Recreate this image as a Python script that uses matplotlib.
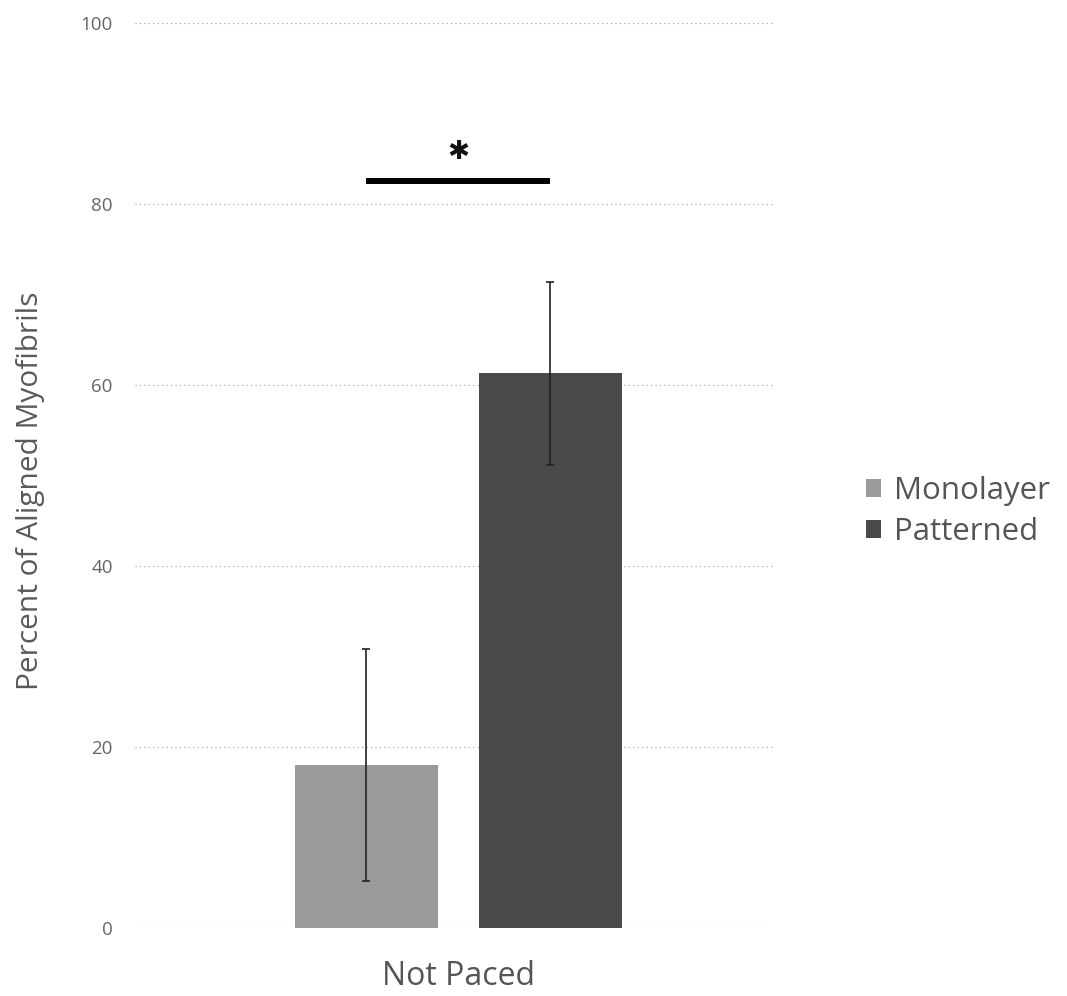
import matplotlib.pyplot as plt
import numpy as np

plt.rcParams['font.family'] = ['Open Sans', 'DejaVu Sans']

category = "Not Paced"
groups = ["Monolayer", "Patterned"]
values = [18.0, 61.3]
errors = [12.8, 10.1]
colors = ["#9a9a9a", "#4a4a4a"]
yticks = [0, 20, 40, 60, 80, 100]
sig_y = 82.5

fig = plt.figure(figsize=(10.67, 9.96), dpi=100)
ax = fig.add_axes([135/1067, 1-928/996, 640/1067, 905/996])

w = 0.2234
offs = [-0.1388, 0.1488]
for i in range(2):
    ax.bar(offs[i], values[i], w, color=colors[i], label=groups[i], zorder=2)
    ax.errorbar(offs[i], values[i], yerr=errors[i], color="#222222",
                elinewidth=1.2, capsize=3, capthick=1.2, zorder=3)

# significance bar
ax.plot([offs[0], offs[1]], [sig_y, sig_y], color="black", lw=4.3, solid_capstyle='butt')
ax.text(np.mean(offs), sig_y + 3.3, "\u2731", ha="center", va="center",
        fontsize=19, family="DejaVu Sans", color="#111111")

ax.set_xlim(-0.5, 0.5)
ax.set_ylim(0, 100)
ax.set_yticks(yticks)
ax.set_yticklabels([str(t) for t in yticks], color="#666666", fontsize=13.5)
ax.set_xticks([np.mean(offs)])
ax.set_xticklabels([category], fontsize=23, color="#555555")
ax.tick_params(length=0)
ax.tick_params(axis="y", pad=16)
ax.tick_params(axis="x", pad=23)
ax.grid(axis="y", ls=(0, (1, 3)), color="#999999", lw=0.8, zorder=0)
for s in ax.spines.values():
    s.set_visible(False)
ax.set_ylabel("Percent of Aligned Myofibrils", fontsize=21.5, color="#5a5a5a")
ax.yaxis.set_label_coords(-0.14, (928 - 491) / 905)

ax.legend(loc="center left", bbox_to_anchor=(1.098, 0.46), frameon=False,
          fontsize=22.5, handlelength=0.5, handleheight=0.5, handletextpad=0.4,
          labelcolor="#555555", labelspacing=0.35)

plt.savefig("out.png")
